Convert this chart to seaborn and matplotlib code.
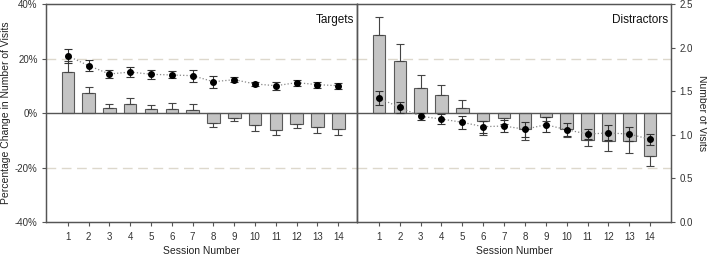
import numpy as np
import pandas as pd
import matplotlib
matplotlib.use("Agg")
import matplotlib.pyplot as plt
import seaborn as sns

sessions = list(range(1, 15))

# Bars: percentage change in number of visits (one-sided error, away from zero)
target_pct = [15.2, 7.3, 1.9, 3.3, 1.5, 1.5, 1.1, -3.8, -1.8, -4.5, -6.2, -4.0, -5.0, -5.9]
target_pct_err = [3.8, 2.2, 1.4, 2.2, 1.3, 2.0, 2.2, 1.5, 1.0, 2.1, 1.7, 1.6, 2.4, 2.2]
distr_pct = [28.8, 18.9, 9.0, 6.7, 1.9, -2.9, -1.9, -5.8, -1.3, -5.8, -10.0, -10.1, -10.1, -15.7]
distr_pct_err = [6.6, 6.5, 5.1, 3.7, 2.8, 5.0, 2.0, 4.2, 1.5, 3.0, 2.2, 4.0, 4.6, 3.6]

# Dots: number of visits (symmetric error)
target_visits = [1.904, 1.793, 1.697, 1.720, 1.694, 1.686, 1.678, 1.609, 1.632, 1.583, 1.563, 1.598, 1.575, 1.563]
target_visits_err = [0.080, 0.065, 0.042, 0.054, 0.050, 0.040, 0.067, 0.067, 0.030, 0.023, 0.048, 0.033, 0.035, 0.036]
distr_visits = [1.419, 1.315, 1.212, 1.181, 1.143, 1.093, 1.101, 1.063, 1.116, 1.058, 1.009, 1.021, 1.009, 0.948]
distr_visits_err = [0.082, 0.060, 0.042, 0.060, 0.078, 0.070, 0.070, 0.088, 0.086, 0.075, 0.061, 0.086, 0.077, 0.065]

sns.set_style("white")
plt.rcParams["font.family"] = ["Liberation Sans", "DejaVu Sans"]
plt.rcParams["axes.edgecolor"] = "#555555"

fig = plt.figure(figsize=(7.07, 2.57), dpi=100)
W, H = 707, 257
bottom = 1 - 222 / H
height = (222 - 4) / H
ax_l = fig.add_axes([46 / W, bottom, (357 - 46) / W, height])
ax_r = fig.add_axes([357 / W, bottom, (671 - 357) / W, height])

panels = [
    (ax_l, target_pct, target_pct_err, target_visits, target_visits_err, "Targets", (-0.05, 14.9)),
    (ax_r, distr_pct, distr_pct_err, distr_visits, distr_visits_err, "Distractors", (-0.05, 15.0)),
]

tick_fs = 7
lab_fs = 7.5

tw = []
for ax, pct, pct_err, vis, vis_err, title, xl in panels:
    df = pd.DataFrame({"session": sessions, "pct": pct})
    sns.barplot(data=df, x="session", y="pct", native_scale=True, width=0.6,
                color="#c4c4c4", edgecolor="#5a5a5a", linewidth=0.8,
                saturation=1, ax=ax, zorder=2)
    pct = np.array(pct)
    err = np.array(pct_err)
    lower = np.where(pct < 0, err, 0)
    upper = np.where(pct >= 0, err, 0)
    ax.errorbar(sessions, pct, yerr=[lower, upper], fmt="none", ecolor="#444444",
                elinewidth=0.8, capsize=3, capthick=0.8, zorder=3)
    for yv in (20, -20):
        ax.axhline(yv, color="#ddd8cc", linestyle=(0, (7, 4)), linewidth=1.0, zorder=0)
    ax.axhline(0, color="#555555", linewidth=1.0, zorder=4)
    ax.set_ylim(-40, 40)
    ax.set_xlim(*xl)
    ax.set_xticks(sessions)
    ax.set_xticklabels([str(s) for s in sessions], fontsize=tick_fs, color="#333333")
    ax.set_xlabel("Session Number", fontsize=lab_fs, color="#222222", labelpad=3)
    ax.set_ylabel("")
    ax.tick_params(axis="x", length=3, width=0.8, color="#555555", pad=4, bottom=True)
    ax.text(0.99, 0.955, title, transform=ax.transAxes, ha="right", va="top",
            fontsize=8.5, color="#111111")

    t = ax.twinx()
    vdf = pd.DataFrame({"session": sessions, "visits": vis})
    sns.lineplot(data=vdf, x="session", y="visits", ax=t, color="#888888",
                 linestyle=":", linewidth=0.9, zorder=3)
    t.errorbar(sessions, vis, yerr=vis_err, fmt="o", color="black", markersize=4,
               ecolor="#333333", elinewidth=0.8, capsize=3, capthick=0.8, zorder=5)
    t.set_ylim(0, 2.5)
    t.set_ylabel("")
    tw.append(t)

ax_l.set_yticks([-40, -20, 0, 20, 40])
ax_l.set_yticklabels(["-40%", "-20%", "0%", "20%", "40%"], fontsize=tick_fs, color="#333333")
ax_l.tick_params(axis="y", left=True, length=3, width=0.8, color="#555555", pad=3)
ax_l.set_ylabel("Percentage Change in Number of Visits", fontsize=lab_fs, color="#222222", labelpad=3)

ax_r.set_yticks([])
tw[0].set_yticks([])
tw[0].tick_params(right=False)
tw[1].set_yticks([0, 0.5, 1.0, 1.5, 2.0, 2.5])
tw[1].set_yticklabels(["0.0", "0.5", "1.0", "1.5", "2.0", "2.5"], fontsize=tick_fs, color="#333333")
tw[1].tick_params(axis="y", right=True, length=3, width=0.8, color="#555555", pad=3)
tw[1].set_ylabel("Number of Visits", fontsize=lab_fs, color="#222222", rotation=270, labelpad=10)

for a in [ax_l, ax_r] + tw:
    for s in a.spines.values():
        s.set_color("#555555")
        s.set_linewidth(0.9)

fig.savefig("out.png", dpi=100)
